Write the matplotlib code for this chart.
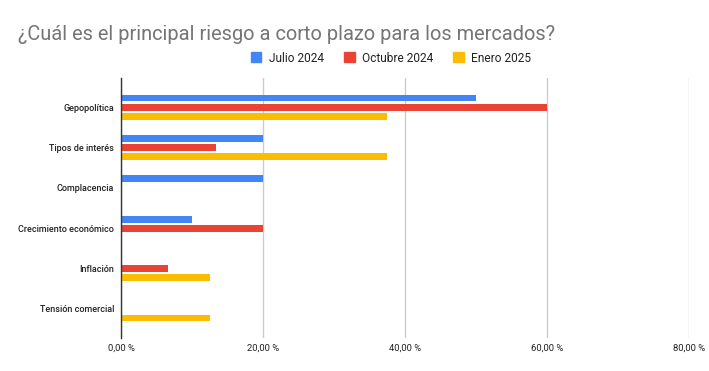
import matplotlib
matplotlib.use("Agg")
import matplotlib.pyplot as plt
import numpy as np
from matplotlib.ticker import FuncFormatter

categories = ["Gepopolítica", "Tipos de interés", "Complacencia",
              "Crecimiento económico", "Inflación", "Tensión comercial"]
series_names = ["Julio 2024", "Octubre 2024", "Enero 2025"]
julio = [50.0, 20.0, 20.0, 10.0, 0.0, 0.0]
octubre = [60.0, 13.33, 0.0, 20.0, 6.67, 0.0]
enero = [37.5, 37.5, 0.0, 0.0, 12.5, 12.5]
colors = ["#4285F4", "#EA4335", "#FBBC04"]
xticks = [0, 20, 40, 60, 80]

plt.rcParams['font.family'] = ['Roboto', 'DejaVu Sans']

W, H = 709, 371
fig = plt.figure(figsize=(W/100, H/100), dpi=100)
left, right = 121, 689
top, bottom = 78, 338
ax = fig.add_axes([left/W, 1-bottom/H, (right-left)/W, (bottom-top)/H])

y = np.arange(len(categories))
pitch = 0.223
h = 0.17
for i, (vals, c, name) in enumerate(zip([julio, octubre, enero], colors, series_names)):
    ax.barh(y + (i-1)*pitch, vals, height=h, color=c, label=name, zorder=3)

ax.set_xlim(0, 80)
ax.set_ylim(5.72, -0.72)
ax.set_xticks(xticks)
ax.xaxis.set_major_formatter(FuncFormatter(lambda v, p: f"{v:.2f}".replace(".", ",") + " %"))
ax.set_yticks(y)
ax.set_yticklabels(categories, fontweight="medium")
ax.tick_params(axis='both', length=0, colors="#222222")
ax.tick_params(axis='x', pad=4, labelsize=6.8)
ax.tick_params(axis='y', pad=5, labelsize=6.5)
ax.grid(axis='x', color="#cccccc", linewidth=1, zorder=0)
for s in ["top", "right", "bottom"]:
    ax.spines[s].set_visible(False)
ax.spines["left"].set_color("#333333")
ax.spines["left"].set_linewidth(1)
ax.spines["left"].set_zorder(4)

fig.text(18/W, 1-40/H, "¿Cuál es el principal riesgo a corto plazo para los mercados?",
         fontsize=14.4, color="#757575", ha="left", va="baseline")

handles = [plt.Rectangle((0, 0), 1, 1, color=c) for c in colors]
fig.legend(handles, series_names, loc="center", bbox_to_anchor=(391/W, 1-58/H),
           ncol=3, frameon=False, fontsize=8.6, handlelength=0.9, handleheight=0.9,
           columnspacing=1.7, handletextpad=0.6, labelcolor="#222222")

fig.savefig("out.png", dpi=100)
